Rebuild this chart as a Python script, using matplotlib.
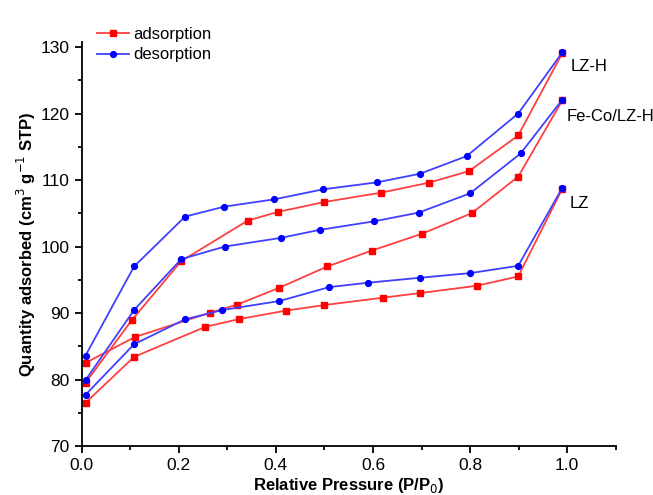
import matplotlib
matplotlib.use("Agg")
import matplotlib.pyplot as plt
from matplotlib.ticker import MultipleLocator

plt.rcParams['font.family'] = ['Liberation Sans', 'DejaVu Sans']

# LZ-H
lzh_ads_x = [0.008, 0.103, 0.205, 0.342, 0.404, 0.50, 0.617, 0.715, 0.798, 0.899, 0.99]
lzh_ads_y = [79.5, 88.9, 97.8, 103.9, 105.2, 106.7, 108.1, 109.6, 111.35, 116.7, 129.1]
lzh_des_x = [0.99, 0.899, 0.793, 0.697, 0.608, 0.497, 0.397, 0.294, 0.213, 0.108, 0.008]
lzh_des_y = [129.2, 120.0, 113.6, 110.95, 109.65, 108.6, 107.1, 106.0, 104.5, 97.0, 83.6]
# Fe-Co/LZ-H
feco_ads_x = [0.008, 0.11, 0.265, 0.32, 0.407, 0.506, 0.598, 0.70, 0.803, 0.899, 0.99]
feco_ads_y = [82.5, 86.4, 90.05, 91.25, 93.8, 97.0, 99.4, 101.9, 105.0, 110.5, 122.0]
feco_des_x = [0.99, 0.904, 0.80, 0.694, 0.603, 0.49, 0.41, 0.295, 0.205, 0.108, 0.008]
feco_des_y = [122.1, 114.0, 108.0, 105.1, 103.8, 102.5, 101.3, 100.0, 98.1, 90.45, 79.9]
# LZ
lz_ads_x = [0.008, 0.108, 0.254, 0.325, 0.42, 0.50, 0.62, 0.697, 0.814, 0.899, 0.99]
lz_ads_y = [76.5, 83.4, 87.9, 89.1, 90.35, 91.2, 92.3, 93.0, 94.1, 95.5, 108.7]
lz_des_x = [0.99, 0.899, 0.80, 0.696, 0.589, 0.51, 0.407, 0.29, 0.213, 0.108, 0.008]
lz_des_y = [108.85, 97.1, 96.0, 95.3, 94.55, 93.9, 91.8, 90.45, 89.05, 85.3, 77.7]

labels = ["LZ-H", "Fe-Co/LZ-H", "LZ"]
label_pos = [(1.007, 127.1), (0.999, 119.6), (1.005, 106.5)]

fig = plt.figure(figsize=(6.53, 4.95), dpi=100)
ax = fig.add_axes([0.125, 0.099, 0.818, 0.816])

red_line = '#ff4040'
blue_line = '#4040ff'
kw_a = dict(color=red_line, lw=1.3, marker='s', ms=4.2, mfc='#ff0000', mec='#ff0000')
kw_d = dict(color=blue_line, lw=1.3, marker='o', ms=4.2, mfc='#0000ff', mec='#0000ff')

ax.plot(lzh_ads_x, lzh_ads_y, label='adsorption', **kw_a)
ax.plot(lzh_des_x, lzh_des_y, label='desorption', **kw_d)
ax.plot(feco_ads_x, feco_ads_y, **kw_a)
ax.plot(feco_des_x, feco_des_y, **kw_d)
ax.plot(lz_ads_x, lz_ads_y, **kw_a)
ax.plot(lz_des_x, lz_des_y, **kw_d)

for t, (x, y) in zip(labels, label_pos):
    ax.text(x, y, t, fontsize=12, va='center', ha='left')

ax.set_xlim(0, 1.1)
ax.set_ylim(70, 130.75)
ax.xaxis.set_minor_locator(MultipleLocator(0.1))
ax.yaxis.set_major_locator(MultipleLocator(10))
ax.yaxis.set_minor_locator(MultipleLocator(5))
ax.set_xticks([0.0, 0.2, 0.4, 0.6, 0.8, 1.0])
ax.set_xticklabels(['0.0', '0.2', '0.4', '0.6', '0.8', '1.0'])

for s in ['top', 'right']:
    ax.spines[s].set_visible(False)
for s in ['left', 'bottom']:
    ax.spines[s].set_linewidth(1.3)

ax.tick_params(which='major', direction='out', length=5, width=1.3, labelsize=12.5)
ax.tick_params(which='minor', direction='out', length=3, width=1.3)

ax.set_ylabel('Quantity adsorbed (cm$^3$ g$^{-1}$ STP)', fontsize=12, fontweight='bold', labelpad=2)
ax.set_xlabel('Relative Pressure (P/P$_0$)', fontsize=12, fontweight='bold', labelpad=2.5)

leg = ax.legend(loc='upper left', bbox_to_anchor=(0.01, 1.063), frameon=False, fontsize=12,
                handlelength=1.9, handletextpad=0.3, labelspacing=0.35, borderaxespad=0.2)

fig.savefig('out.png', dpi=100)
